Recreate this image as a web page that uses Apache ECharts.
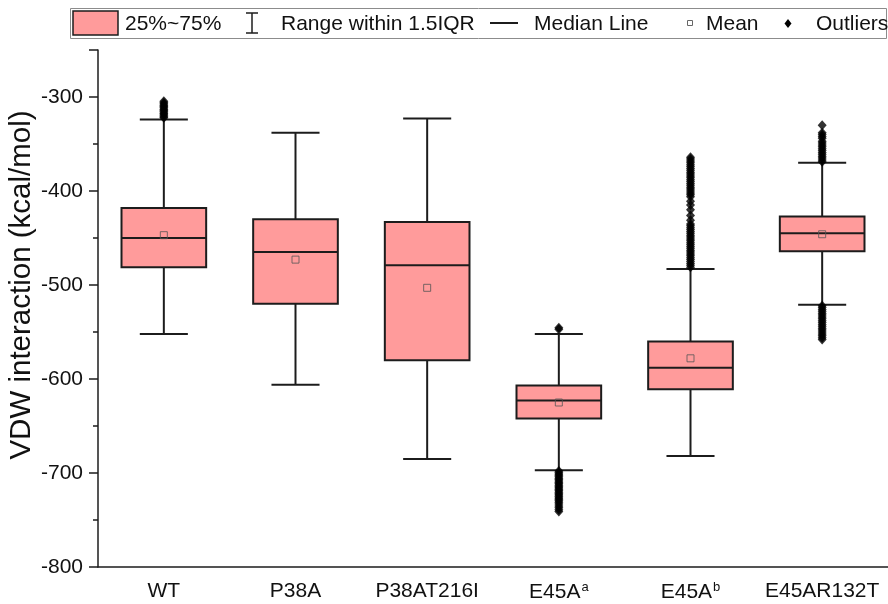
<!DOCTYPE html>
<html>
<head>
<meta charset="utf-8">
<script src="https://cdn.jsdelivr.net/npm/echarts@6/dist/echarts.min.js"></script>
<style>
html,body{margin:0;padding:0;background:#fff;}
#chart{width:888px;height:604px;}
</style>
</head>
<body>
<div id="chart"></div>
<script>
// ---- data ----
const categories = ['WT', 'P38A', 'P38AT216I', 'E45A^a', 'E45A^b', 'E45AR132T'];
const whiskerLow = [-552, -606, -685, -697, -682, -521];
const q1 = [-481, -520, -580, -642, -611, -464];
const median = [-450, -465, -479, -623, -588, -445];
const q3 = [-418, -430, -433, -607, -560, -427];
const whiskerHigh = [-324, -338, -323, -552, -483, -370];
const means = [-447, -473, -503, -625, -578, -446];

const outliersWT = [-304.5, -306, -307.5, -309, -310, -311.5, -313, -314, -315.5, -317, -318, -319.5, -321, -322];
const outliersE45Aa = [-545.5, -547, -698, -699.5, -701, -702.5, -704, -705.5, -707, -708.5, -710, -711.5, -713,
  -714.5, -716, -717.5, -719, -720.5, -722, -723.5, -725, -726.5, -728, -729.5, -731, -733, -735, -737, -739, -741];
const outliersE45Ab = [-364, -366, -368, -370, -372, -374, -376, -378, -380, -382, -384, -386, -388, -390, -392,
  -394, -396, -398, -400, -402, -404, -406, -411, -415, -420, -426, -431, -435, -437, -439, -441, -443, -445,
  -447, -449, -451, -453, -455, -457, -459, -461, -463, -465, -467, -469, -471, -473, -475, -477, -479, -481];
const outliersE45AR132T = [-330, -338, -340, -342, -344, -347, -349, -351, -353, -355, -357, -359, -361, -363,
  -365, -367, -369, -522, -524, -526, -528, -530, -532, -534, -536, -538, -540, -542, -544, -546, -548, -550,
  -552, -554, -556, -558];

const yTicks = [-800, -700, -600, -500, -400, -300];
const yTitle = 'VDW interaction (kcal/mol)';
const legendLabels = ['25%~75%', 'Range within 1.5IQR', 'Median Line', 'Mean', 'Outliers'];

// ---- build ----
const boxData = categories.map((c, i) => [i, whiskerLow[i], q1[i], median[i], q3[i], whiskerHigh[i]]);
const meanData = means.map((v, i) => [i, v]);
const outlierData = [];
[[0, outliersWT], [3, outliersE45Aa], [4, outliersE45Ab], [5, outliersE45AR132T]].forEach(([idx, arr]) => {
  arr.forEach(v => outlierData.push([idx, v]));
});

const FONT = '"Liberation Sans", Arial, sans-serif';
const LINE = '#1c1c1c';
const FILL = '#ff9b9b';
const LF = '21px ' + FONT;

const chart = echarts.init(document.getElementById('chart'), null, {renderer: 'canvas'});

const option = {
  animation: false,
  backgroundColor: '#fff',
  grid: {left: 98, top: 50, width: 794, bottom: 37},
  xAxis: {
    type: 'category',
    data: categories,
    boundaryGap: true,
    axisLine: {lineStyle: {color: LINE, width: 1.5}},
    axisTick: {alignWithLabel: true, length: 8, lineStyle: {color: LINE, width: 1.5}},
    axisLabel: {
      interval: 0,
      margin: 14,
      color: '#111',
      fontFamily: FONT,
      fontSize: 21,
      formatter: function (v) {
        const p = v.split('^');
        return p.length > 1 ? '{n|' + p[0] + '}{s|' + p[1] + '}' : '{n|' + v + '}';
      },
      rich: {
        n: {fontSize: 21, fontFamily: FONT, color: '#111'},
        s: {fontSize: 13, fontFamily: FONT, color: '#111', verticalAlign: 'top', padding: [0, 0, 10, 1]}
      }
    },
    splitLine: {show: false}
  },
  yAxis: {
    type: 'value',
    min: -800,
    max: -250,
    interval: 100,
    axisLine: {show: true, lineStyle: {color: LINE, width: 1.5}},
    axisTick: {show: true, length: 9, lineStyle: {color: LINE, width: 1.5}},
    minorTick: {show: true, splitNumber: 2, length: 5, lineStyle: {color: LINE, width: 1.5}},
    axisLabel: {
      margin: 15, color: '#111', fontFamily: FONT, fontSize: 21,
      formatter: function (v) { return yTicks.indexOf(v) >= 0 ? String(v) : ''; }
    },
    splitLine: {show: false}
  },
  series: [
    {
      name: 'box',
      type: 'custom',
      data: boxData,
      encode: {x: 0, y: [1, 2, 3, 4, 5]},
      z: 2,
      renderItem: function (params, api) {
        const x = api.value(0);
        const pLow = api.coord([x, api.value(1)]);
        const pQ1 = api.coord([x, api.value(2)]);
        const pMed = api.coord([x, api.value(3)]);
        const pQ3 = api.coord([x, api.value(4)]);
        const pHigh = api.coord([x, api.value(5)]);
        const band = api.size([1, 0])[0];
        const bw = band * 0.643;
        const cw = band * 0.365;
        const cx = pMed[0];
        const ls = {stroke: LINE, lineWidth: 2};
        return {
          type: 'group',
          children: [
            {type: 'line', shape: {x1: cx, y1: pLow[1], x2: cx, y2: pQ1[1]}, style: ls},
            {type: 'line', shape: {x1: cx, y1: pQ3[1], x2: cx, y2: pHigh[1]}, style: ls},
            {type: 'line', shape: {x1: cx - cw / 2, y1: pLow[1], x2: cx + cw / 2, y2: pLow[1]}, style: ls},
            {type: 'line', shape: {x1: cx - cw / 2, y1: pHigh[1], x2: cx + cw / 2, y2: pHigh[1]}, style: ls},
            {type: 'rect', shape: {x: cx - bw / 2, y: pQ3[1], width: bw, height: pQ1[1] - pQ3[1]},
              style: {fill: FILL, stroke: LINE, lineWidth: 2}},
            {type: 'line', shape: {x1: cx - bw / 2, y1: pMed[1], x2: cx + bw / 2, y2: pMed[1]}, style: ls}
          ]
        };
      }
    },
    {
      name: 'Outliers',
      type: 'scatter',
      data: outlierData,
      symbol: 'diamond',
      symbolSize: [9, 10],
      itemStyle: {color: '#000'},
      z: 3
    },
    {
      name: 'Mean',
      type: 'scatter',
      data: meanData,
      symbol: 'rect',
      symbolSize: 7,
      itemStyle: {color: 'rgba(0,0,0,0)', borderColor: '#555', borderWidth: 1},
      z: 4
    }
  ],
  graphic: [
    {type: 'text', x: 22, y: 285, rotation: Math.PI / 2,
      style: {text: yTitle, font: '29.5px ' + FONT, fill: '#111', textAlign: 'center', textVerticalAlign: 'middle'}},
    {type: 'rect', shape: {x: 70.5, y: 8.5, width: 816, height: 30}, style: {fill: '#fff', stroke: '#8c8c8c', lineWidth: 1}},
    {type: 'rect', shape: {x: 73, y: 11, width: 45, height: 24}, style: {fill: FILL, stroke: LINE, lineWidth: 1.5}},
    {type: 'text', x: 125, y: 24, style: {text: legendLabels[0], font: LF, fill: '#111', textVerticalAlign: 'middle'}},
    {type: 'line', shape: {x1: 252, y1: 13, x2: 252, y2: 33}, style: {stroke: LINE, lineWidth: 1.5}},
    {type: 'line', shape: {x1: 246, y1: 13, x2: 258, y2: 13}, style: {stroke: LINE, lineWidth: 1.5}},
    {type: 'line', shape: {x1: 246, y1: 33, x2: 258, y2: 33}, style: {stroke: LINE, lineWidth: 1.5}},
    {type: 'text', x: 281, y: 24, style: {text: legendLabels[1], font: LF, fill: '#111', textVerticalAlign: 'middle'}},
    {type: 'line', shape: {x1: 490, y1: 23, x2: 518, y2: 23}, style: {stroke: LINE, lineWidth: 2}},
    {type: 'text', x: 534, y: 24, style: {text: legendLabels[2], font: LF, fill: '#111', textVerticalAlign: 'middle'}},
    {type: 'rect', shape: {x: 687.5, y: 20.5, width: 5, height: 5}, style: {fill: 'none', stroke: '#666', lineWidth: 1}},
    {type: 'text', x: 706, y: 24, style: {text: legendLabels[3], font: LF, fill: '#111', textVerticalAlign: 'middle'}},
    {type: 'polygon', shape: {points: [[788, 19], [791.5, 23.5], [788, 28], [784.5, 23.5]]}, style: {fill: '#000'}},
    {type: 'text', x: 816, y: 24, style: {text: legendLabels[4], font: LF, fill: '#111', textVerticalAlign: 'middle'}}
  ]
};

chart.setOption(option);
</script>
</body>
</html>
